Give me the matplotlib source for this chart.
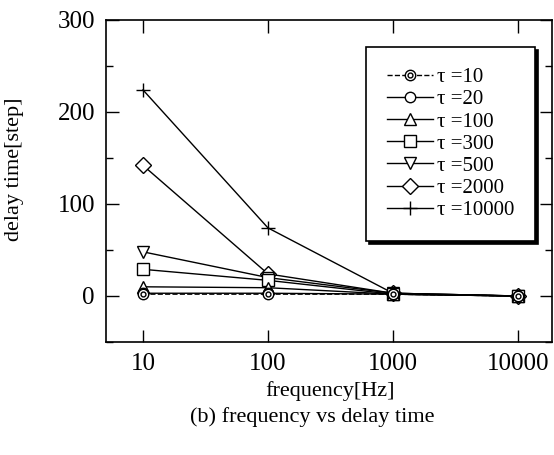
import numpy as np
import matplotlib
matplotlib.use("Agg")
import matplotlib.pyplot as plt
from matplotlib.ticker import MultipleLocator, FixedLocator, NullLocator

plt.rcParams['font.family'] = ['Liberation Serif', 'DejaVu Serif']

# --- data ---
freq = [10, 100, 1000, 10000]
tau_labels = ["10", "20", "100", "300", "500", "2000", "10000"]
delay_10 = [2, 2, 2, 0]
delay_20 = [3, 3, 2, 0]
delay_100 = [10, 9, 2, 0]
delay_300 = [29, 17, 2, 0]
delay_500 = [48, 20, 3, 0]
delay_2000 = [142, 24, 3, 0]
delay_10000 = [224, 74, 3, 0]

series = [delay_10, delay_20, delay_100, delay_300, delay_500, delay_2000, delay_10000]
markers = ["o", "o", "^", "s", "v", "D", "+"]
msizes = [7.5, 7.5, 8.5, 8, 8.5, 8.5, 10]

fig = plt.figure(figsize=(5.54, 4.55), dpi=100)
ax = fig.add_axes([106 / 554, 1 - 342 / 455, 446 / 554, 322 / 455])

handles = []
# draw from the biggest tau down so tau=10 ends up on top
for i in range(len(series) - 1, -1, -1):
    ls = "--" if i == 0 else "-"
    ln, = ax.plot(freq, series[i], color="black", lw=1.0, ls=ls,
                  marker=markers[i], ms=msizes[i], mfc="white", mec="black",
                  mew=1.0, zorder=3 + (len(series) - i))
    h = ln
    if i == 0:
        dot, = ax.plot(freq, series[i], ls="none", marker="o", ms=3.5,
                       mfc="white", mec="black", mew=1.0, zorder=20)
        h = (ln, dot)
    handles.insert(0, h)

ax.set_xscale("log")
ax.set_xlim(10 ** 0.704, 10 ** 4.272)
ax.set_ylim(-50, 300)
ax.xaxis.set_major_locator(FixedLocator(freq))
ax.xaxis.set_minor_locator(NullLocator())
ax.set_xticklabels(["10", "100", "1000", "10000"])
ax.yaxis.set_major_locator(MultipleLocator(100))
ax.yaxis.set_minor_locator(MultipleLocator(50))
ax.set_yticks([0, 100, 200, 300])

ax.tick_params(which="both", direction="in", top=True, right=True,
               labelsize=18, width=1.0)
ax.tick_params(which="major", length=9, pad=8)
ax.tick_params(which="minor", length=5)
for sp in ax.spines.values():
    sp.set_linewidth(1.2)

leg = ax.legend(handles, ["τ =" + t for t in tau_labels],
                loc="upper right", bbox_to_anchor=(535 / 554, 1 - 47 / 455),
                bbox_transform=fig.transFigure, fontsize=15,
                fancybox=False, shadow={"color": "black", "alpha": 1},
                edgecolor="black", framealpha=1, borderpad=1.0,
                labelspacing=0.12, handlelength=2.2, handletextpad=0.2,
                borderaxespad=0, numpoints=1)
leg.get_frame().set_linewidth(1.2)
leg.set_zorder(30)

fig.text(330 / 554, 1 - 391 / 455, "frequency[Hz]", ha="center", va="center", fontsize=16)
fig.text(15 / 554, 1 - 169 / 455, "delay time[step]", ha="center", va="center",
         rotation=90, fontsize=16)
fig.text(312 / 554, 1 - 417 / 455, "(b) frequency vs delay time", ha="center",
         va="center", fontsize=16)

fig.savefig("out.png", dpi=100)
